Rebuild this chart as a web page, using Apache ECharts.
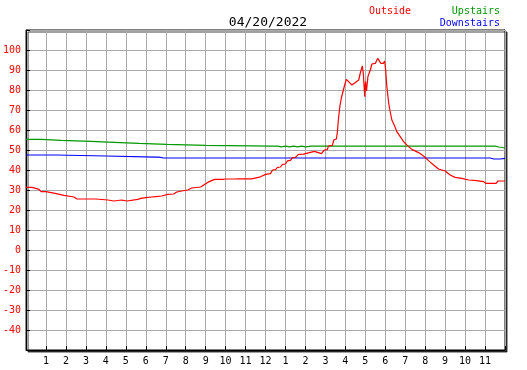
<!DOCTYPE html>
<html lang="en">
<head>
    <meta charset="UTF-8">
    <title>04/20/2022</title>
    <script src="https://cdn.jsdelivr.net/npm/echarts@6/dist/echarts.min.js"></script>
    <style>html,body{margin:0;padding:0;background:#fff;}</style>
</head>
<body>
<div id="main" style="width:527px;height:370px;"></div>
<script>
    // hours since midnight, degrees
    var outside = [
        [0, 31.3], [0.3, 31.3], [0.4, 30.3], [0.65, 30.3], [0.75, 29.2], [1.0, 29.2], [1.1, 28.3], [1.45, 28.3],
        [1.55, 27.3], [1.9, 27.3], [2.0, 26.5], [2.4, 26.5], [2.55, 25.5], [3.35, 25.5], [3.4, 25.2], [3.5, 25.5],
        [3.6, 25.0], [4.1, 25.0], [4.2, 24.5], [4.4, 24.5], [4.45, 25.0], [4.8, 25.0], [4.9, 24.5], [5.05, 24.5],
        [5.15, 25.3], [5.6, 25.3], [5.75, 25.8], [6.0, 26.2], [6.3, 26.5], [6.5, 26.7], [6.8, 27.0], [7.1, 27.8],
        [7.4, 28.0], [7.55, 29.0], [7.8, 29.5], [8.1, 30.0], [8.3, 31.0], [8.75, 31.5], [8.9, 32.5], [9.1, 33.8],
        [9.3, 34.7], [9.45, 35.3], [9.85, 35.3], [10.0, 35.5], [10.4, 35.5], [10.5, 34.8], [10.65, 35.6],
        [11.0, 35.6], [11.3, 35.6], [11.4, 36.5], [11.75, 36.6], [12.0, 37.8], [12.25, 38.2], [12.35, 40.0],
        [12.5, 40.2], [12.6, 41.3], [12.75, 41.5], [12.85, 42.8], [13.0, 43.0], [13.1, 44.6], [13.25, 44.8],
        [13.35, 46.2], [13.5, 46.3], [13.55, 45.8], [13.65, 47.8], [13.9, 47.9], [14.0, 48.6], [14.2, 48.7],
        [14.3, 49.5], [14.45, 49.3], [14.55, 48.4], [14.8, 48.2], [14.88, 47.7], [14.95, 50.0], [15.1, 50.2],
        [15.15, 52.0], [15.35, 52.3], [15.42, 55.0], [15.55, 55.5], [15.6, 59.0], [15.65, 65.0], [15.72, 71.5],
        [15.8, 76.0], [15.9, 80.0], [15.98, 83.0], [16.05, 85.3], [16.15, 84.6], [16.33, 82.5], [16.5, 83.8],
        [16.67, 85.0], [16.75, 88.5], [16.8, 90.3], [16.85, 92.0], [16.9, 88.3], [16.97, 76.7], [17.01, 84.2],
        [17.06, 79.5], [17.13, 86.7], [17.25, 90.0], [17.33, 93.0], [17.5, 93.3], [17.62, 95.8], [17.7, 96.3],
        [17.78, 93.3], [17.9, 93.3], [17.97, 94.5], [18.02, 90.0], [18.08, 81.7], [18.17, 73.5], [18.22, 70.5],
        [18.33, 65.0], [18.45, 62.5], [18.58, 59.2], [18.75, 56.7], [18.92, 54.2], [19.08, 52.5], [19.33, 50.3],
        [19.67, 48.7], [19.92, 47.0], [20.17, 44.7], [20.42, 42.5], [20.67, 40.5], [21.0, 39.5], [21.25, 37.5],
        [21.5, 36.3], [21.83, 35.8], [22.17, 35.0], [22.58, 34.7], [22.92, 34.2], [23.05, 33.3], [23.55, 33.3],
        [23.65, 34.5], [24.0, 34.5]
    ];
    var upstairs = [
        [0, 55.3], [0.65, 55.3], [0.72, 55.6], [0.78, 55.3], [0.83, 54.8], [1.75, 54.8], [1.83, 54.3],
        [3.25, 54.3], [3.33, 53.8], [4.42, 53.8], [4.5, 53.3], [5.67, 53.3], [5.75, 52.8], [7.05, 52.8],
        [7.1, 52.3], [9.0, 52.3], [9.08, 51.9], [12.3, 51.9], [12.4, 51.6], [12.6, 51.9], [12.8, 51.6],
        [13.0, 51.9], [13.2, 51.6], [13.4, 51.9], [13.6, 51.6], [13.8, 51.9], [14.0, 51.6], [14.3, 51.9],
        [20.9, 51.9], [20.95, 51.5], [21.0, 51.9], [23.5, 51.9], [23.55, 51.0], [23.7, 51.5], [23.75, 51.0],
        [24.0, 51.0]
    ];
    var downstairs = [
        [0, 47.5], [1.5, 47.5], [1.58, 47.0], [4.0, 47.0], [4.08, 46.4], [6.5, 46.4], [6.58, 45.9],
        [6.65, 46.4], [6.9, 46.0], [13.95, 46.0], [14.0, 46.4], [14.05, 46.0], [23.25, 46.0], [23.3, 45.5],
        [23.45, 45.5], [23.5, 46.0], [23.6, 45.5], [23.75, 45.5], [23.8, 46.0], [24.0, 45.8]
    ];
    var dateLabel = '04/20/2022';
    var seriesNames = ['Outside', 'Upstairs', 'Downstairs'];
    var seriesColors = ['#ff0000', '#009900', '#0000ff'];

    var mono = 'DejaVu Sans Mono';
    var myChart = echarts.init(document.getElementById('main'));

    var option = {
        animation: false,
        backgroundColor: '#fff',
        title: {
            text: dateLabel,
            left: 263,
            top: 11,
            textAlign: 'center',
            textStyle: {fontFamily: mono, fontSize: 13, fontWeight: 'normal', color: '#000'}
        },
        graphic: [
            {type: 'text', left: 369, top: 6, style: {text: seriesNames[0], fill: seriesColors[0], font: '10px ' + mono}},
            {type: 'text', right: 27, top: 6, style: {text: seriesNames[1], fill: seriesColors[1], font: '10px ' + mono}},
            {type: 'text', right: 27, top: 18, style: {text: seriesNames[2], fill: seriesColors[2], font: '10px ' + mono}}
        ],
        grid: {
            left: 25, top: 30, right: 22, bottom: 20,
            show: true,
            backgroundColor: '#fff',
            borderColor: '#000',
            borderWidth: 1,
            shadowColor: 'rgba(0,0,0,0.75)',
            shadowOffsetX: 2,
            shadowOffsetY: 2,
            shadowBlur: 0
        },
        xAxis: {
            type: 'value',
            min: 0, max: 24, interval: 1,
            axisLine: {onZero: false, lineStyle: {color: '#000', width: 1}},
            axisTick: {inside: true, length: 4, lineStyle: {color: '#000'}},
            splitLine: {show: true, lineStyle: {color: '#aaaaaa', width: 1}},
            axisLabel: {
                margin: 6,
                color: '#000',
                fontFamily: mono,
                fontSize: 10,
                formatter: function (v) {
                    if (v <= 0 || v >= 24) return '';
                    var h = v % 12;
                    return String(h === 0 ? 12 : h);
                }
            }
        },
        yAxis: {
            type: 'value',
            min: -50, max: 110, interval: 10,
            axisLine: {show: true, onZero: false, lineStyle: {color: '#000', width: 1}},
            axisTick: {show: true, inside: true, length: 4, lineStyle: {color: '#000'}},
            splitLine: {show: true, lineStyle: {color: '#aaaaaa', width: 1}},
            axisLabel: {
                margin: 5,
                color: '#ff0000',
                fontFamily: mono,
                fontSize: 10,
                formatter: function (v) {
                    return (v < -40 || v > 100) ? '' : String(v);
                }
            }
        },
        series: [
            {name: seriesNames[1], type: 'line', data: upstairs, symbol: 'none', lineStyle: {color: seriesColors[1], width: 1.2}},
            {name: seriesNames[2], type: 'line', data: downstairs, symbol: 'none', lineStyle: {color: seriesColors[2], width: 1.2}},
            {name: seriesNames[0], type: 'line', data: outside, symbol: 'none', lineStyle: {color: seriesColors[0], width: 1.2}}
        ]
    };

    myChart.setOption(option);
</script>
</body>
</html>
